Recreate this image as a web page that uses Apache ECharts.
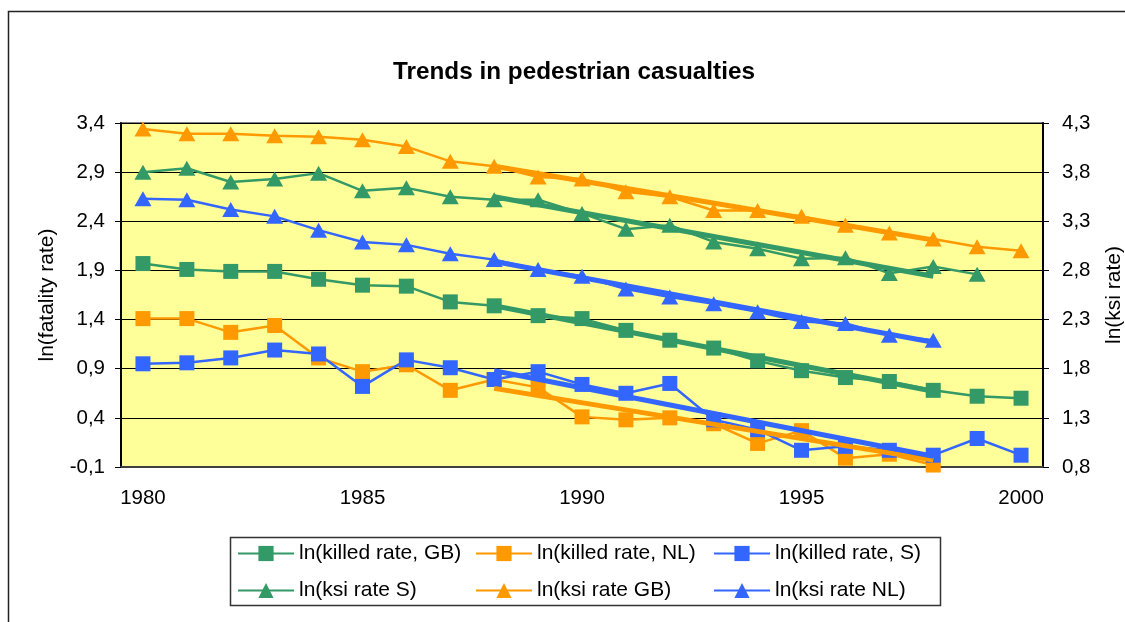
<!DOCTYPE html>
<html>
<head>
<meta charset="utf-8">
<title>Trends in pedestrian casualties</title>
<script src="https://cdn.jsdelivr.net/npm/echarts@6/dist/echarts.min.js"></script>
<style>
  html, body { margin: 0; padding: 0; background: #fff; }
  #chart { width: 1125px; height: 622px; }
</style>
</head>
<body>
<div id="chart"></div>
<script>
// Years on the category axis
const years = ['1980','1981','1982','1983','1984','1985','1986','1987','1988','1989','1990',
               '1991','1992','1993','1994','1995','1996','1997','1998','1999','2000'];

// ln(killed rate) series, left axis
const killedGB = [1.97, 1.91, 1.89, 1.89, 1.81, 1.75, 1.74, 1.58, 1.54, 1.44, 1.41, 1.29, 1.19, 1.11, 0.98, 0.88, 0.81, 0.77, 0.68, 0.62, 0.60];
const killedNL = [1.41, 1.41, 1.27, 1.34, 1.01, 0.87, 0.94, 0.68, 0.79, 0.71, 0.41, 0.38, 0.40, 0.34, 0.14, 0.27, -0.01, 0.03, -0.08, null, null];
const killedS  = [0.95, 0.96, 1.01, 1.09, 1.05, 0.72, 0.99, 0.91, 0.79, 0.87, 0.74, 0.65, 0.75, 0.38, 0.28, 0.07, 0.11, 0.07, 0.02, 0.19, 0.02];

// ln(ksi rate) series, right axis
const ksiS  = [3.80, 3.84, 3.70, 3.73, 3.79, 3.61, 3.64, 3.55, 3.52, 3.52, 3.38, 3.22, 3.26, 3.09, 3.02, 2.92, 2.93, 2.77, 2.84, 2.76, null];
const ksiGB = [4.24, 4.19, 4.19, 4.17, 4.16, 4.13, 4.06, 3.91, 3.86, 3.75, 3.73, 3.60, 3.55, 3.41, 3.41, 3.35, 3.26, 3.18, 3.12, 3.04, 3.00];
const ksiNL = [3.53, 3.52, 3.42, 3.35, 3.21, 3.09, 3.06, 2.97, 2.91, 2.81, 2.74, 2.61, 2.53, 2.46, 2.38, 2.28, 2.26, 2.14, 2.09, null, null];

// Linear trend lines over 1988-1998 (start and end values)
const trendYears = ['1988', '1998'];
const trendKilledGB = [1.54, 0.67];
const trendKilledNL = [0.70, -0.03];
const trendKilledS  = [0.88, 0.01];
const trendKsiS  = [3.55, 2.74];
const trendKsiGB = [3.86, 3.11];
const trendKsiNL = [2.89, 2.07];

// Axis ranges
const leftAxis  = { min: -0.1, max: 3.4, step: 0.5 };
const rightAxis = { min: 0.8,  max: 4.3, step: 0.5 };

const GREEN = '#339966', ORANGE = '#FF9900', BLUE = '#3366FF';
const FONT = "'Liberation Sans', Arial, sans-serif";

function comma(v) { return v.toFixed(1).replace('.', ','); }

function dataSeries(name, data, color, symbol, axis) {
  return {
    name: name, type: 'line', data: data, yAxisIndex: axis,
    symbol: symbol,
    symbolSize: symbol === 'rect' ? 15 : [17, 15],
    showSymbol: true,
    lineStyle: { color: color, width: 2.5 },
    itemStyle: { color: color, borderColor: color, borderWidth: 0 },
    connectNulls: false,
    z: 3
  };
}
function trendSeries(id, values, color, axis) {
  return {
    name: id, type: 'line', yAxisIndex: axis,
    data: trendYears.map((y, i) => [y, values[i]]),
    symbol: 'none',
    lineStyle: { color: color, width: 5 },
    z: 4
  };
}

const legendBase = {
  orient: 'vertical', top: 543, padding: 0, itemWidth: 56, itemHeight: 19, itemGap: 16,
  textStyle: { fontSize: 21, color: '#000', fontFamily: FONT },
  selectedMode: false
};

const chart = echarts.init(document.getElementById('chart'), null, { renderer: 'canvas' });
chart.setOption({
  animation: false,
  backgroundColor: '#fff',
  textStyle: { fontFamily: FONT },
  title: {
    text: 'Trends in pedestrian casualties',
    left: 569, textAlign: 'center', top: 55,
    textStyle: { fontSize: 24.3, fontWeight: 'bold', color: '#000', fontFamily: FONT }
  },
  graphic: [
    { type: 'rect', shape: { x: 8.5, y: 11.5, width: 1300, height: 800 },
      style: { fill: null, stroke: '#222', lineWidth: 1.5 }, silent: true, z: 0 },
    { type: 'rect', shape: { x: 230.5, y: 537.5, width: 710, height: 68 },
      style: { fill: '#fff', stroke: '#333', lineWidth: 1.5 }, silent: true, z: 0 }
  ],
  grid: {
    left: 121, right: 82, top: 123, bottom: 155,
    outerBoundsMode: 'none', containLabel: false,
    show: true, backgroundColor: '#FFFF99', borderColor: '#808080', borderWidth: 2
  },
  legend: [
    Object.assign({ left: 237, data: ['ln(killed rate, GB)', 'ln(ksi rate S)'] }, legendBase),
    Object.assign({ left: 475, data: ['ln(killed rate, NL)', 'ln(ksi rate GB)'] }, legendBase),
    Object.assign({ left: 713, data: ['ln(killed rate, S)', 'ln(ksi rate NL)'] }, legendBase)
  ],
  xAxis: {
    type: 'category', data: years, boundaryGap: true,
    axisLine: { onZero: false, lineStyle: { color: '#404040', width: 2 } },
    axisTick: { interval: 0, length: 6, lineStyle: { color: '#404040', width: 1 } },
    axisLabel: { interval: 4, margin: 21, fontSize: 20.5, color: '#000', fontFamily: FONT },
    splitLine: { show: false }
  },
  yAxis: [
    {
      type: 'value', position: 'left',
      min: leftAxis.min, max: leftAxis.max, interval: leftAxis.step,
      name: 'ln(fatality rate)', nameLocation: 'middle', nameGap: 63, nameRotate: 90,
      nameTextStyle: { fontSize: 21, color: '#000', fontFamily: FONT },
      axisLine: { show: true, lineStyle: { color: '#000', width: 2 } },
      axisTick: { show: true, length: 6, lineStyle: { color: '#000' } },
      axisLabel: { formatter: comma, fontSize: 20.5, color: '#000', margin: 16, fontFamily: FONT },
      splitLine: { show: true, lineStyle: { color: '#000', width: 1 } }
    },
    {
      type: 'value', position: 'right',
      min: rightAxis.min, max: rightAxis.max, interval: rightAxis.step,
      name: 'ln(ksi rate)', nameLocation: 'middle', nameGap: 61, nameRotate: 90,
      nameTextStyle: { fontSize: 21, color: '#000', fontFamily: FONT },
      axisLine: { show: true, lineStyle: { color: '#000', width: 2 } },
      axisTick: { show: true, length: 6, lineStyle: { color: '#000' } },
      axisLabel: { formatter: comma, fontSize: 20.5, color: '#000', margin: 19, fontFamily: FONT },
      splitLine: { show: false }
    }
  ],
  series: [
    dataSeries('ln(killed rate, GB)', killedGB, GREEN, 'rect', 0),
    dataSeries('ln(killed rate, NL)', killedNL, ORANGE, 'rect', 0),
    dataSeries('ln(killed rate, S)', killedS, BLUE, 'rect', 0),
    dataSeries('ln(ksi rate S)', ksiS, GREEN, 'triangle', 1),
    dataSeries('ln(ksi rate GB)', ksiGB, ORANGE, 'triangle', 1),
    dataSeries('ln(ksi rate NL)', ksiNL, BLUE, 'triangle', 1),
    trendSeries('trend killed GB', trendKilledGB, GREEN, 0),
    trendSeries('trend killed NL', trendKilledNL, ORANGE, 0),
    trendSeries('trend killed S', trendKilledS, BLUE, 0),
    trendSeries('trend ksi S', trendKsiS, GREEN, 1),
    trendSeries('trend ksi GB', trendKsiGB, ORANGE, 1),
    trendSeries('trend ksi NL', trendKsiNL, BLUE, 1)
  ]
});
</script>
</body>
</html>
